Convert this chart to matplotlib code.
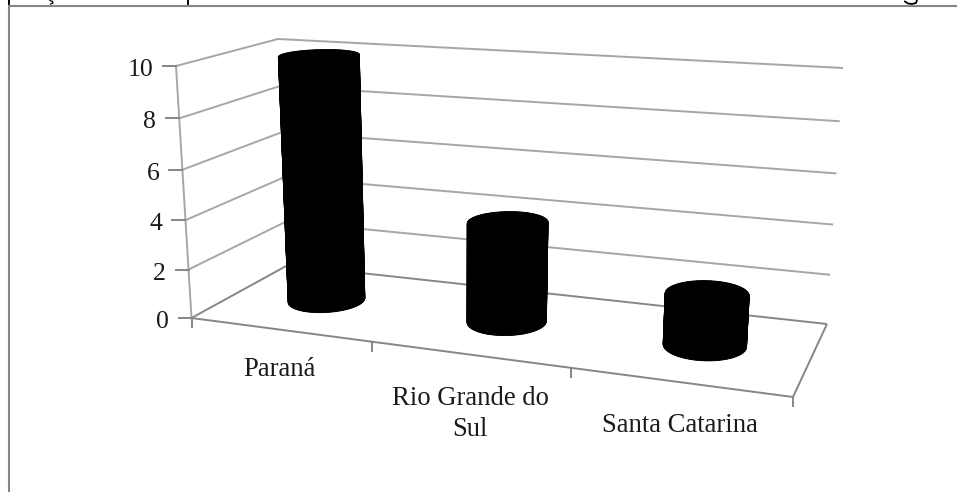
import numpy as np
import matplotlib
matplotlib.use('Agg')
import matplotlib.pyplot as plt

plt.rcParams['font.family'] = ['Liberation Serif', 'DejaVu Serif']

categories = ['Paraná', 'Rio Grande do\nSul', 'Santa Catarina']
values = [10, 4, 2]
yticks = [0, 2, 4, 6, 8, 10]

W, H = 957, 492
GRID = '#a6a6a6'
AXIS = '#868686'

# corners of the 3D box in image pixels: front left, front right, back right, back left
floor_px = np.array([(191.5, 318), (793, 397), (827, 324), (288, 265)])
top_px = np.array([(176, 66), (811, 112), (843, 68), (278, 39)])


def homography(dst):
    # unit square (u along categories, w along depth) -> pixels
    src = [(0, 0), (1, 0), (1, 1), (0, 1)]
    A, b = [], []
    for (u, w), (x, y) in zip(src, dst):
        A.append([u, w, 1, 0, 0, 0, -u * x, -w * x])
        A.append([0, 0, 0, u, w, 1, -u * y, -w * y])
        b += [x, y]
    return np.append(np.linalg.solve(np.array(A, float), np.array(b, float)), 1).reshape(3, 3)


H_floor = homography(floor_px)
rise = top_px - floor_px


def project(cat, val, depth):
    # cat in 0..3, val in 0..10, depth in 0..1
    u = np.asarray(cat, float) / 3
    u = u + 0.034 * u * (1 - u)
    w = np.asarray(depth, float) * np.ones_like(u)
    p = H_floor @ np.array([u, w, np.ones_like(u)], float)
    x0, y0 = p[0] / p[2], p[1] / p[2]
    f = val / 10
    f = f / (f + (1 - f) * 1.05)
    dx = (1 - u) * (1 - w) * rise[0, 0] + u * (1 - w) * rise[1, 0] + u * w * rise[2, 0] + (1 - u) * w * rise[3, 0]
    dy = (1 - u) * (1 - w) * rise[0, 1] + u * (1 - w) * rise[1, 1] + u * w * rise[2, 1] + (1 - u) * w * rise[3, 1]
    return x0 + dx * f, y0 + dy * f


def line(ax, cats, vals, depths, color=GRID, lw=1.4, z=1):
    pts = [project(c, v, d) for c, v, d in zip(cats, vals, depths)]
    ax.plot([p[0] for p in pts], [p[1] for p in pts], color=color, lw=lw, zorder=z,
            solid_capstyle='butt')


fig = plt.figure(figsize=(W / 100, H / 100), dpi=100)
ax = fig.add_axes([0, 0, 1, 1])
ax.set_xlim(0, W)
ax.set_ylim(H, 0)
ax.axis('off')

# frame of the pasted picture
ax.plot([9.3, 9.3, W], [H, 6.3, 6.3], color='#868686', lw=1.5, zorder=5, solid_joinstyle='miter')
# slivers of the cut off line above the frame
for x in [8.5, 187.5]:
    ax.plot([x, x], [0, 4], color='black', lw=1.4)
ax.plot([50, 52.5, 53, 50.5], [0.5, 1.5, 3, 4], color='black', lw=0.9)
ax.plot([905, 908, 912, 916, 917], [1.5, 3.5, 4, 3, 0], color='black', lw=1.3)

# walls and gridlines
for v in yticks:
    line(ax, [0, 0, 3], [v, v, v], [0, 1, 1], color=AXIS if v == 0 else GRID)
    x, y = project(0, v, 0)
    ax.plot([x - 13, x], [y, y], color=AXIS, lw=1.4, zorder=2)
    ax.text(x - 23, y + 4, str(v), ha='right', va='center', fontsize=18.5, color='#1a1a1a')
line(ax, [0, 0], [0, 10], [0, 0])
line(ax, [0, 3], [0, 0], [0, 0], color=AXIS)
line(ax, [3, 3], [0, 0], [0, 1], color=AXIS)

# category ticks
for c in range(4):
    x, y = project(c, 0, 0)
    ax.plot([x, x], [y, y + 9], color=AXIS, lw=1.4, zorder=2)

# cylinders
t = np.linspace(0, 2 * np.pi, 90)
for i, val in enumerate(values):
    cu = i + 0.5 + 0.5 * np.cos(t) * 0.39
    cw = 0.5 + 0.5 * np.sin(t) * 0.42
    xb, yb = project(cu, 0, cw)
    xt, yt = project(cu, val, cw)
    ax.fill(xb, yb, color='black', lw=0, zorder=3)
    ax.fill(xt, yt, color='black', lw=0, zorder=3)
    for k in range(len(t) - 1):
        ax.fill([xb[k], xb[k + 1], xt[k + 1], xt[k]], [yb[k], yb[k + 1], yt[k + 1], yt[k]],
                color='black', lw=0.6, zorder=3)

# category labels
label_pos = [(279, 376), (470, 436), (680, 432)]
for name, (x, y) in zip(categories, label_pos):
    ax.text(x, y, name, ha='center', va='baseline', fontsize=19.2, color='#1a1a1a',
            linespacing=1.3, multialignment='center')

fig.savefig('out.png', dpi=100)
